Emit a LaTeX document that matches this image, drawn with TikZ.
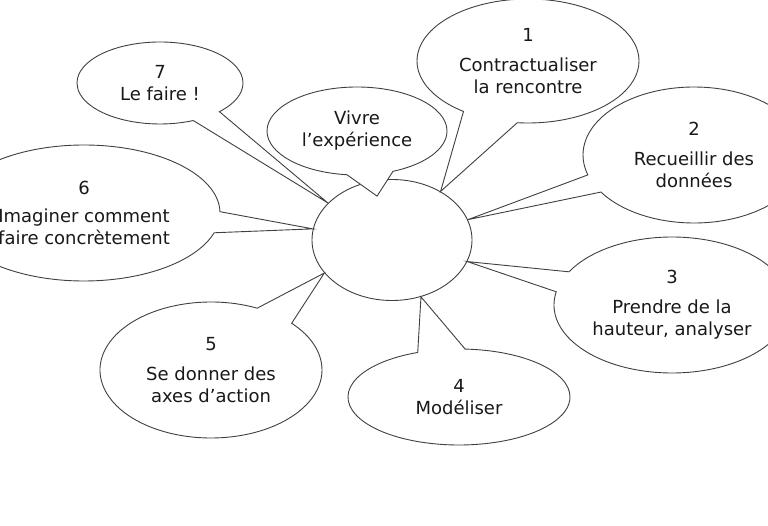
\documentclass[tikz,border=0pt]{standalone}
\usepackage{fontspec}
\setmainfont{DejaVu Sans}
\usepackage{tikz}
\usetikzlibrary{shapes.geometric,shapes.callouts}

\begin{document}
\begin{tikzpicture}[x=1pt, y=-1pt,
  every node/.style={
    font=\fontsize{18}{22}\selectfont, 
    text=black!90, 
    align=center
  },
  bulle/.style={
    ellipse callout, draw=black!75, line width=0.9pt, 
    fill=white, inner sep=0pt, 
    callout pointer arc=#1
  },
  bulle/.default=20
]
\useasboundingbox (0,0) rectangle (768,526);
\clip (0,0) rectangle (768,526);
\node[ellipse, draw=black!75, line width=0.9pt, fill=white, minimum width=160, minimum height=121] (centre) at (392,240) {};
% les bulles autour du centre
\node[bulle=30, minimum width=222, minimum height=124, callout absolute pointer={(centre.45)}] (etape1) at (528,61) {1\\[8pt]Contractualiser\\la rencontre};
\node[bulle=16, minimum width=222, minimum height=136, callout absolute pointer={(centre.15)}] (etape2) at (694,155) {2\\[8pt]Recueillir des\\données};
\node[bulle=18, minimum width=236, minimum height=136, callout absolute pointer={(centre.344)}] (etape3) at (672,305) {3\\[8pt]Prendre de la\\hauteur, analyser};
\node[bulle=25, minimum width=222, minimum height=96, callout absolute pointer={(centre.297)}] (etape4) at (459,397) {4\\Modéliser};
\node[bulle=22, minimum width=222, minimum height=136, callout absolute pointer={(centre.206)}] (etape5) at (211,370) {5\\[8pt]Se donner des\\axes d'action};
\node[bulle=18, minimum width=272, minimum height=136, callout absolute pointer={(centre.172)}] (etape6) at (84,213) {6\\[6pt]Imaginer comment\\faire concrètement};
\node[bulle=22, minimum width=166, minimum height=82, callout absolute pointer={(centre.150)}] (etape7) at (160,83) {7\\Le faire !};
\node[bulle=30, minimum width=180, minimum height=88, callout absolute pointer={([yshift=-16pt]centre.104)}] (vivre) at (357,131) {Vivre\\l'expérience};
\end{tikzpicture}
\end{document}
